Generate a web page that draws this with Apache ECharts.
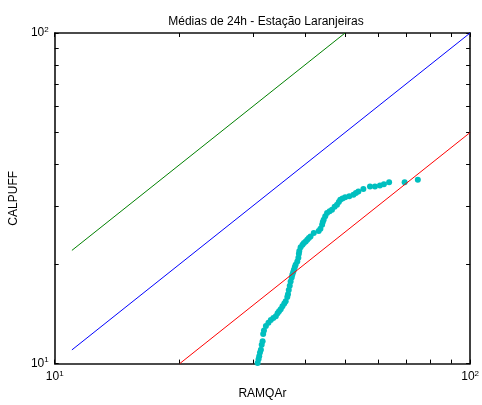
<!DOCTYPE html>
<html>
<head>
<meta charset="utf-8">
<script src="https://cdn.jsdelivr.net/npm/echarts@6/dist/echarts.min.js"></script>
<style>
  html, body { margin: 0; padding: 0; background: #fff; }
  #chart { width: 482px; height: 405px; }
</style>
</head>
<body>
<div id="chart"></div>
<script>
// dados (quantis ordenados)
const ramqar = [30.8, 30.95, 31.07, 31.2, 31.36, 31.5, 31.66, 31.76, 31.9, 32.24, 32.7, 33.13, 33.6, 34.06, 34.4, 34.68,
  35.0, 35.34, 35.7, 35.98, 36.3, 36.44, 36.6, 36.8, 36.98, 37.2, 37.33, 37.5, 37.66, 37.85, 38.02, 38.37, 38.6, 38.71,
  38.8, 39.08, 39.5, 39.8, 40.2, 40.55, 40.9, 41.29, 42.04, 43.2, 43.62, 44.03, 44.2, 44.42, 44.8, 45.25, 45.9, 46.51,
  47.2, 47.81, 48.3, 48.69, 49.3, 50.04, 51.2, 52.38, 53.1, 53.83, 55.34, 57.41, 59.01, 60.66, 62.01, 63.83, 69.57, 74.85];
const calpuff = [10.05, 10.3, 10.52, 10.8, 11.02, 11.4, 11.68, 12.3, 12.6, 13.0, 13.3, 13.55, 13.75, 13.9, 14.2, 14.39,
  14.6, 14.9, 15.2, 15.43, 15.9, 16.2, 16.7, 17.2, 17.73, 18.2, 18.57, 18.9, 19.23, 19.6, 19.91, 20.37, 20.9, 21.5,
  21.9, 22.5, 22.9, 23.16, 23.4, 23.7, 24.0, 24.25, 24.83, 25.2, 25.6, 26.3, 26.8, 27.23, 27.9, 28.53, 28.9, 29.19,
  29.8, 30.22, 30.8, 31.29, 31.6, 31.88, 32.1, 32.4, 32.8, 33.15, 33.71, 34.32, 34.32, 34.57, 34.9, 35.39, 35.39, 35.96];

// retas de referência: 2x, 1:1, 0.5x
const linha2x = [[11, 22], [50, 100]];
const linha1x = [[11, 11], [100, 100]];
const linhaMeio = [[20, 10], [100, 50]];

const tickVals = [10, 20, 30, 40, 50, 60, 70, 80, 90, 100];
const labelVals = [10, 100];

const font = "'Liberation Sans', Arial, sans-serif";
const chart = echarts.init(document.getElementById('chart'));

const supLabel = v => '{b|10}{s|' + Math.round(Math.log10(v)) + '}';
const richLbl = {
  b: { fontSize: 12, fontFamily: font, color: '#000' },
  s: { fontSize: 8, fontFamily: font, color: '#000', padding: [0, 0, 7, 0] }
};

function logAxis(pos, showLabel, extra) {
  return Object.assign({
    type: 'log', logBase: 10, min: 10, max: 100, position: pos,
    axisLine: { show: true, onZero: false, lineStyle: { color: '#111', width: 1.6 } },
    axisTick: { show: true, inside: true, length: 4, customValues: tickVals, lineStyle: { color: '#000' } },
    minorTick: { show: false },
    splitLine: { show: false },
    axisLabel: { show: showLabel, customValues: labelVals, formatter: supLabel, rich: richLbl, margin: 6 }
  }, extra || {});
}

chart.setOption({
  animation: false,
  title: {
    text: 'Médias de 24h - Estação Laranjeiras',
    left: 261, top: 11, textAlign: 'center',
    textStyle: { fontSize: 12, fontWeight: 'normal', fontFamily: font, color: '#000' }
  },
  grid: { left: 52, right: 11, top: 33, bottom: 41 },
  xAxis: [
    logAxis('bottom', true, { name: 'RAMQAr', nameLocation: 'middle', nameGap: 24,
      nameTextStyle: { fontSize: 12, fontFamily: font, color: '#000' } }),
    logAxis('top', false)
  ],
  yAxis: [
    logAxis('left', true, { name: 'CALPUFF', nameLocation: 'middle', nameGap: 28,
      nameTextStyle: { fontSize: 12, fontFamily: font, color: '#000' } }),
    logAxis('right', false)
  ],
  series: [
    { type: 'line', data: linha2x, symbol: 'none', lineStyle: { color: '#008000', width: 1 } },
    { type: 'line', data: linha1x, symbol: 'none', lineStyle: { color: '#0000ff', width: 1 } },
    { type: 'line', data: linhaMeio, symbol: 'none', lineStyle: { color: '#ff0000', width: 1 } },
    {
      type: 'scatter', symbolSize: 6,
      data: ramqar.map((x, i) => [x, calpuff[i]]),
      itemStyle: { color: '#00bfbf', opacity: 1 }
    }
  ]
});
</script>
</body>
</html>
